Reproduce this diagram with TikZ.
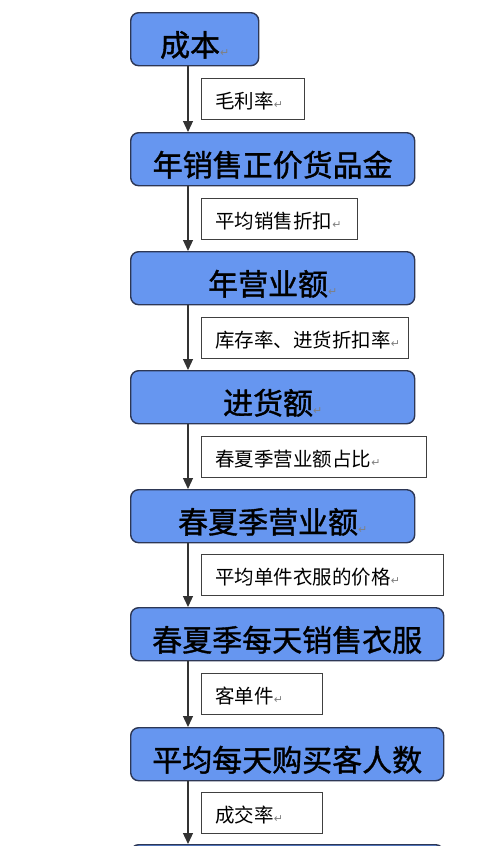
\documentclass[tikz,border=0pt]{standalone}
\usepackage{fontspec}
\setmainfont{Noto Sans CJK SC}
\newfontfamily\boxfont[FakeBold=1.2]{Noto Sans CJK SC}
\newfontfamily\symfont{DejaVu Sans}
\usetikzlibrary{arrows.meta}
\definecolor{stageblue}{RGB}{102,150,240}
\definecolor{stageline}{RGB}{45,55,85}
\newcommand{\ret}{{\symfont\fontsize{11}{11}\selectfont\textcolor{gray}{↵}}}
\tikzset{
  stage/.style={draw=stageline, line width=1.4pt, fill=stageblue, rounded corners=8pt,
    anchor=north west, minimum height=53pt, inner sep=0pt, text height=34pt, text depth=0pt,
    font=\boxfont\fontsize{30}{30}\selectfont},
  factor/.style={draw=black!75, line width=0.9pt, fill=white, anchor=west,
    minimum height=41pt, inner xsep=14pt, inner ysep=0pt, align=left,
    text height=19pt, text depth=0pt, font=\fontsize{19.5}{20}\selectfont},
  flow/.style={draw=black!80, line width=1.2pt, -{Triangle[width=10pt,length=11pt]}}
}
\begin{document}
\begin{tikzpicture}[x=1pt,y=-1pt]
    \useasboundingbox (0,0) rectangle (500,846);
    \clip (0,0) rectangle (500,846);

    % Draw stage boxes
    \foreach \i/\y/\w/\t in {1/12/128/成本\ret, 2/132/284/年销售正价货品金, 3/251/284/年营业额\ret,
                             4/370/284/进货额\ret, 5/489/284/春夏季营业额\ret,
                             6/607/313/春夏季每天销售衣服, 7/727/313/平均每天购买客人数, 8/844/313/} {
        \node[stage, minimum width=\w pt] (b\i) at (130,\y) {\t};
    }

    % Arrows between the boxes
    \coordinate (ax) at (188,0);
    \foreach \i [count=\j from 2] in {1,...,7} {
        \draw[flow] (ax |- b\i.south) -- (ax |- b\j.north);
    }

    % Factor labels beside the arrows
    \coordinate (lx) at (201,0);
    \foreach \i/\w/\t in {1/75/毛利率, 2/128/平均销售折扣, 3/179/库存率、进货折扣率,
                          4/197/春夏季营业额占比, 5/214/平均单件衣服的价格,
                          6/93/客单件, 7/93/成交率} {
        \pgfmathtruncatemacro{\j}{\i+1}
        \path (b\i.south west) -- (b\j.north west) coordinate[pos=.5] (m\i);
        \node[factor, text width=\w pt] (l\i) at (lx |- m\i) {\t\ret};
    }
\end{tikzpicture}
\end{document}
